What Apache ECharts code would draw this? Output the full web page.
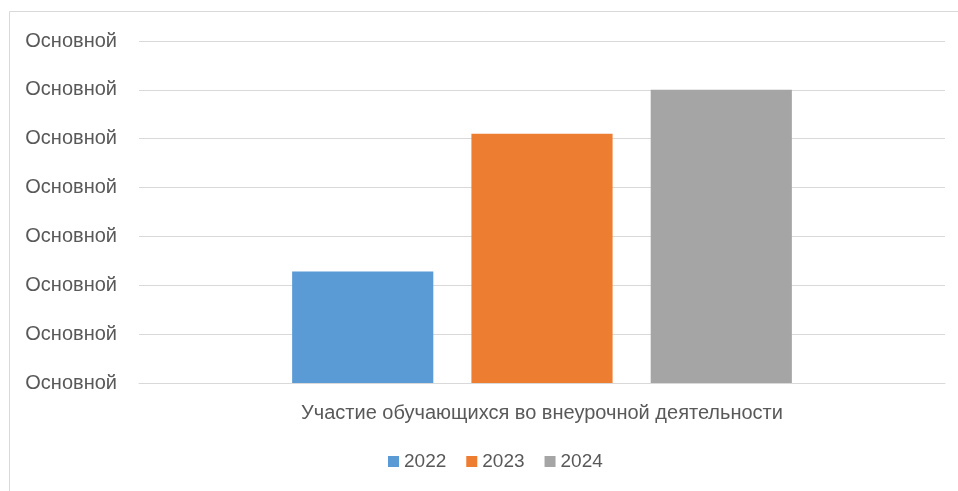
<!DOCTYPE html>
<html><head><meta charset="utf-8">
<script src="https://cdn.jsdelivr.net/npm/echarts@6/dist/echarts.min.js"></script>
<style>html,body{margin:0;padding:0;background:#fff}#c{width:958px;height:491px}</style>
</head><body><div id="c"></div>
<script>
const categories = ['Участие обучающихся во внеурочной деятельности'];
const seriesNames = ['2022', '2023', '2024'];
const values2022 = [2.28];
const values2023 = [5.1];
const values2024 = [6.0];
const yTickLabel = 'Основной';
const colors = ['#5b9bd5', '#ed7d31', '#a5a5a5'];

const chart = echarts.init(document.getElementById('c'));
const font = 'Liberation Sans, Arial, sans-serif';
chart.setOption({
  animation: false,
  color: colors,
  graphic: [{
    type: 'rect', shape: {x: 9.5, y: 11.5, width: 960, height: 490},
    style: {fill: 'none', stroke: '#d9d9d9', lineWidth: 1}, silent: true
  }],
  grid: {left: 139, right: 13, top: 41, bottom: 108, containLabel: false},
  legend: {
    data: seriesNames, top: 452, left: 388, padding: 0,
    icon: 'rect', itemWidth: 11, itemHeight: 11, itemGap: 20,
    textStyle: {fontSize: 19, color: '#595959', fontFamily: font}
  },
  xAxis: {
    type: 'category', data: categories,
    axisLine: {lineStyle: {color: '#d9d9d9'}}, axisTick: {show: false},
    axisLabel: {fontSize: 20, color: '#595959', fontFamily: font, margin: 20}
  },
  yAxis: {
    type: 'value', min: 0, max: 7, interval: 1,
    axisLine: {show: false}, axisTick: {show: false},
    splitLine: {lineStyle: {color: '#d9d9d9', width: 1}},
    axisLabel: {fontSize: 20, color: '#595959', fontFamily: font, margin: 22,
      formatter: () => yTickLabel}
  },
  series: [
    {name: seriesNames[0], type: 'bar', data: values2022, barCategoryGap: '38%', barGap: '27%'},
    {name: seriesNames[1], type: 'bar', data: values2023, barCategoryGap: '38%', barGap: '27%'},
    {name: seriesNames[2], type: 'bar', data: values2024, barCategoryGap: '38%', barGap: '27%'}
  ]
});
</script></body></html>
